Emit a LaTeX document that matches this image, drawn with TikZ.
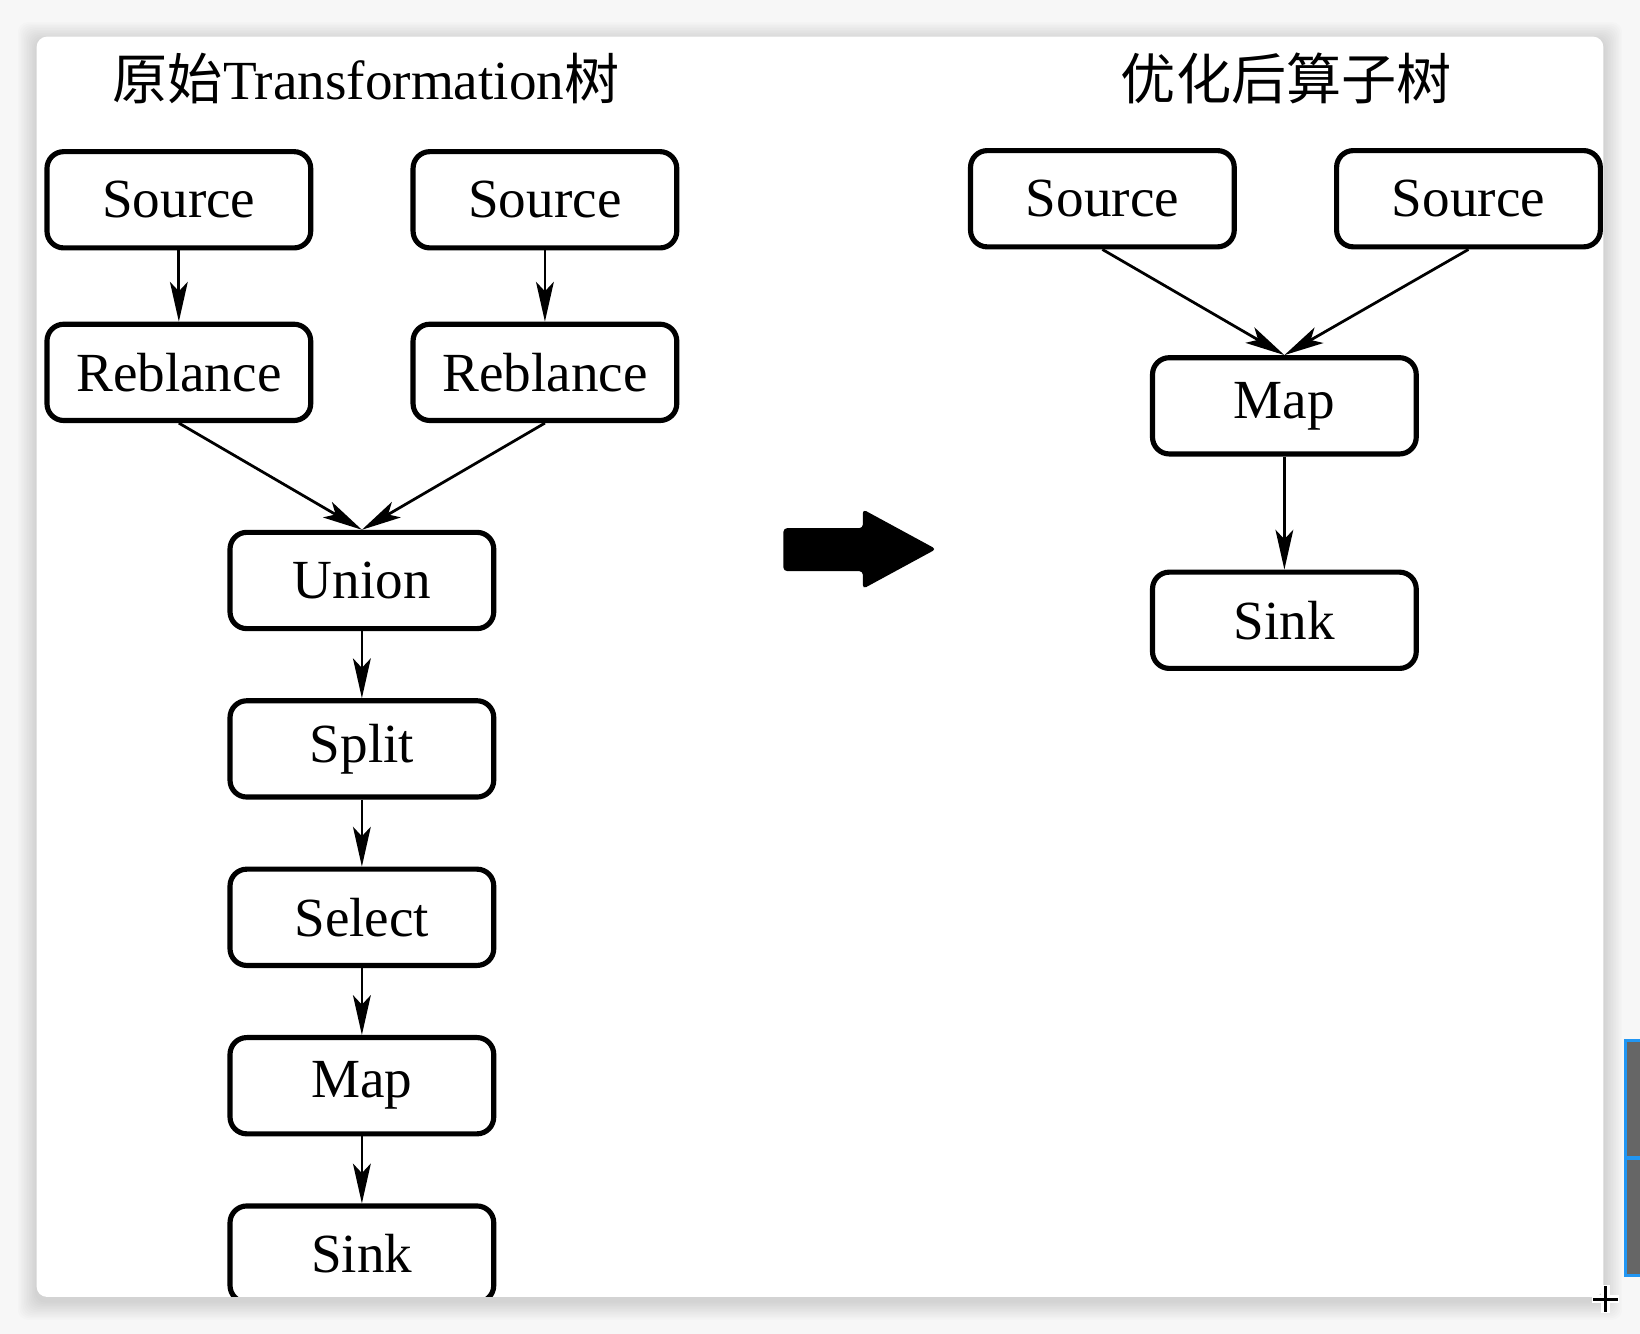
\documentclass[tikz,border=0pt]{standalone}
\usepackage{fontspec}
\setmainfont{Liberation Serif}
\newfontfamily\cjk{Noto Sans CJK SC}
\usetikzlibrary{arrows.meta,positioning}
\definecolor{barblue}{HTML}{2196F3}
\definecolor{bargray}{HTML}{666666}

\begin{document}
\begin{tikzpicture}[x=0.01cm, y=-0.01cm, line join=round,
	>={Stealth[length=3.8mm,width=1.7mm,inset=0.9mm]},
	opbox/.style={draw, line width=1.4pt, rounded corners=0.16cm, minimum width=2.52cm,
		minimum height=0.92cm, inner sep=0pt, font=\fontsize{15}{18}\selectfont},
	flow/.style={->, line width=0.75pt},
	treetitle/.style={font=\fontsize{15}{18}\selectfont}]
	\useasboundingbox (0,0) rectangle (1568,1275);
	% screen and card
	\fill[gray!6] (0,0) rectangle (1568,1275);
	\foreach \d in {1,...,12}
		\fill[black, opacity=0.012, rounded corners=0.1cm] ({35-\d*1.5},{39-\d*1.5}) rectangle ({1533+\d*1.5},{1244+\d*1.5});
	\fill[white, rounded corners=0.1cm] (35,35) rectangle (1533,1240);
	\begin{scope}
		\clip[rounded corners=0.1cm] (35,35) rectangle (1533,1240);
		% titles
		\node[treetitle] (ltitle) at (350,75) {{\cjk 原始}Transformation{\cjk 树}};
		\node[treetitle] (rtitle) at (1230,75) {\cjk 优化后算子树};
		% original tree
		\node[opbox] (src1) at (171,191) {Source};
		\node[opbox] (src2) at (521,191) {Source};
		\node[opbox] (reb1) at (171,356) {Reblance};
		\node[opbox] (reb2) at (521,356) {Reblance};
		\node[opbox] (union) at (346,555) {Union};
		\node[opbox, below=6.4mm of union] (split) {Split};
		\node[opbox, below=6.4mm of split] (select) {Select};
		\node[opbox, below=6.4mm of select] (map) {Map};
		\node[opbox, below=6.4mm of map] (sink) {Sink};
		\draw[flow] (src1) -- (reb1);
		\draw[flow] (src2) -- (reb2);
		\draw[flow] (reb1.south) -- (union.north);
		\draw[flow] (reb2.south) -- (union.north);
		\draw[flow] (union) -- (split);
		\draw[flow] (split) -- (select);
		\draw[flow] (select) -- (map);
		\draw[flow] (map) -- (sink);
		% optimized tree
		\node[opbox] (osrc1) at (1054,190) {Source};
		\node[opbox] (osrc2) at (1404,190) {Source};
		\node[opbox] (omap) at (1228,388) {Map};
		\node[opbox, below=10.8mm of omap] (osink) {Sink};
		\draw[flow] (osrc1.south) -- (omap.north);
		\draw[flow] (osrc2.south) -- (omap.north);
		\draw[flow] (omap) -- (osink);
		% big arrow
		\fill[rounded corners=1pt] (749,505) -- (825,505) -- (825,487) -- (895,525)
			-- (825,563) -- (825,546) -- (749,546) -- cycle;
	\end{scope}
	% side bar and cursor
	\fill[barblue] (1553,993) rectangle (1568,1221);
	\fill[bargray] (1556,996) rectangle (1568,1105);
	\fill[bargray] (1556,1109) rectangle (1568,1218);
	\draw[white, line width=2.4pt] (1522,1242) -- (1548,1242) (1535,1229) -- (1535,1255);
	\draw[black, line width=0.8pt] (1523,1242) -- (1547,1242) (1535,1230) -- (1535,1254);
\end{tikzpicture}
\end{document}
